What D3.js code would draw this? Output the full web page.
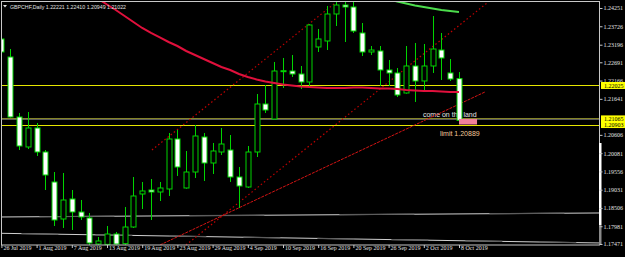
<!DOCTYPE html>
<html>
<head>
<meta charset="utf-8">
<script src="https://cdn.jsdelivr.net/npm/d3@7/dist/d3.min.js"></script>
<style>
  body { margin: 0; background: #000; }
  svg { display: block; }
</style>
</head>
<body>
<svg id="chart"></svg>
<script>
// GBPCHF daily bars, 26 Jul - 8 Oct 2019
const dates = ["26 Jul 2019","29 Jul 2019","30 Jul 2019","31 Jul 2019","1 Aug 2019","2 Aug 2019","5 Aug 2019","6 Aug 2019","7 Aug 2019","8 Aug 2019","9 Aug 2019","12 Aug 2019","13 Aug 2019","14 Aug 2019","15 Aug 2019","16 Aug 2019","19 Aug 2019","20 Aug 2019","21 Aug 2019","22 Aug 2019","23 Aug 2019","26 Aug 2019","27 Aug 2019","28 Aug 2019","29 Aug 2019","30 Aug 2019","2 Sep 2019","3 Sep 2019","4 Sep 2019","5 Sep 2019","6 Sep 2019","9 Sep 2019","10 Sep 2019","11 Sep 2019","12 Sep 2019","13 Sep 2019","16 Sep 2019","17 Sep 2019","18 Sep 2019","19 Sep 2019","20 Sep 2019","23 Sep 2019","24 Sep 2019","25 Sep 2019","26 Sep 2019","27 Sep 2019","30 Sep 2019","1 Oct 2019","2 Oct 2019","3 Oct 2019","4 Oct 2019","7 Oct 2019","8 Oct 2019"];

const open = [1.23361,1.22843,1.21120,1.20258,1.20804,1.20114,1.19252,1.18189,1.18764,1.18390,1.18218,1.17471,1.17460,1.17758,1.17480,1.17959,1.18907,1.19022,1.18965,1.19051,1.20488,1.19080,1.19539,1.20545,1.19798,1.20114,1.20171,1.19396,1.19108,1.20114,1.21493,1.21062,1.22441,1.22441,1.22355,1.22125,1.23131,1.23303,1.24079,1.24337,1.24280,1.23533,1.22987,1.23016,1.22470,1.22384,1.21809,1.22585,1.22154,1.22585,1.23044,1.22384,1.22221];
const high = [1.23447,1.23073,1.21235,1.21263,1.20947,1.20171,1.19539,1.19511,1.19022,1.18735,1.18362,1.17672,1.17988,1.17816,1.18534,1.19396,1.19252,1.19338,1.19252,1.20660,1.20746,1.20143,1.20890,1.20660,1.20373,1.20804,1.20602,1.19683,1.20286,1.21780,1.22039,1.22700,1.22815,1.22901,1.22585,1.23791,1.23648,1.24309,1.24424,1.24452,1.24424,1.23820,1.23159,1.23159,1.22757,1.22527,1.23159,1.23246,1.23217,1.24021,1.23533,1.22786,1.22410];
const low = [1.22958,1.21100,1.20171,1.20200,1.19999,1.19022,1.17988,1.17931,1.17873,1.18160,1.17442,1.17442,1.17442,1.17450,1.17445,1.17931,1.18476,1.18160,1.18706,1.18850,1.19425,1.19060,1.19367,1.19281,1.19482,1.20028,1.19252,1.18505,1.19080,1.19970,1.21235,1.21040,1.21953,1.22269,1.21924,1.21981,1.22987,1.23044,1.23734,1.23274,1.23533,1.22872,1.22901,1.22010,1.22010,1.21694,1.21790,1.21551,1.21895,1.22384,1.22183,1.22154,1.20949];
const close = [1.22987,1.21120,1.20286,1.20804,1.20114,1.19453,1.18160,1.18735,1.18390,1.18247,1.17500,1.17557,1.17758,1.17470,1.17959,1.18850,1.18994,1.18965,1.19080,1.20488,1.19683,1.19539,1.20574,1.19798,1.20143,1.20344,1.19396,1.19137,1.20114,1.21493,1.21321,1.22441,1.22450,1.22355,1.22125,1.23763,1.23361,1.24079,1.24337,1.24280,1.23590,1.22987,1.23044,1.22470,1.22384,1.21752,1.22585,1.22154,1.22585,1.23073,1.22815,1.22211,1.21022];

// moving averages (red slow one, green one only visible at the end)
const maRed = [1.26779,1.26550,1.26320,1.26090,1.25860,1.25659,1.25458,1.25257,1.25056,1.24854,1.24682,1.24510,1.24352,1.24194,1.24021,1.23849,1.23677,1.23533,1.23404,1.23274,1.23159,1.23016,1.22901,1.22786,1.22671,1.22556,1.22470,1.22355,1.22269,1.22197,1.22140,1.22096,1.22053,1.22025,1.21996,1.21981,1.21967,1.21953,1.21953,1.21953,1.21967,1.21967,1.21953,1.21938,1.21938,1.21924,1.21895,1.21881,1.21867,1.21867,1.21852,1.21838,1.21838];
const maGreen = [null,null,null,null,null,null,null,null,null,null,null,null,null,null,null,null,null,null,null,null,null,null,null,null,null,null,null,null,null,null,null,null,null,null,null,null,null,null,null,null,null,null,null,null,1.24495,1.24438,1.24380,1.24323,1.24280,1.24237,1.24194,1.24165,1.24136];

const priceTicks = [1.24251,1.23726,1.23196,1.22691,1.22166,1.21641,1.20606,1.20081,1.19556,1.19031,1.18506,1.17981,1.17471];

// drawn objects: [bar index, price]
const channelLines = [
  [[17.11, 1.20171], [38.35, 1.24481]],
  [[20.98, 1.17442], [55.18, 1.24395]]
];
const supportLine = [[18.02, 1.17442], [54.95, 1.21838]];
const greyLines = [
  [[0, 1.18247], [68, 1.18362]],
  [[0, 1.17778], [68, 1.17500]]
];
const yellowLevels = [1.22025, 1.20903];
const dottedLevel = 1.21065;
const bidPrice = 1.21022;
const zone = { from: 52, to: 54.05, top: 1.21065, bottom: 1.20903 };
const notes = [
  { text: "come on the land", i: 47.9, price: 1.21120, color: "#e6e6e6" },
  { text: "limit 1.20889", i: 49.84, price: 1.20574, color: "#f5c89a" }
];

const W = 625, H = 257;
const plotL = 1.5, plotR = 599.5, plotT = 1.5, plotB = 245;

const svg = d3.select("#chart").attr("width", W).attr("height", H)
  .style("font-family", "'Liberation Serif', serif");

svg.append("rect").attr("width", W).attr("height", H).attr("fill", "#000");

const n = dates.length;
const x = d3.scaleLinear().domain([0, n - 1]).range([1.4, 459]);
const y = d3.scaleLinear().domain([d3.min(low), d3.max(high)]).range([245, 1]);
const px = i => Math.round(x(i)) + 0.5;

svg.append("clipPath").attr("id", "plot")
  .append("rect").attr("x", 2).attr("y", 2).attr("width", plotR - 2.5).attr("height", plotB - 2);

const plot = svg.append("g").attr("clip-path", "url(#plot)");
const line = d3.line().x(d => x(d[0])).y(d => y(d[1]));

// grey trend lines near the bottom
greyLines.forEach((pts, k) => {
  plot.append("path").attr("d", line(pts)).attr("stroke", "#d0d0d0").attr("stroke-width", 1).attr("fill", "none");
  plot.append("path").attr("d", line(pts)).attr("stroke", "#5c5c5c").attr("stroke-width", 1.2).attr("fill", "none")
    .attr("stroke-dasharray", k === 0 ? "75,75" : "37,37").attr("stroke-dashoffset", k === 0 ? -38 : -20);
});

// horizontal levels
yellowLevels.forEach(p => {
  plot.append("line").attr("x1", plotL).attr("x2", plotR)
    .attr("y1", Math.round(y(p)) + 0.5).attr("y2", Math.round(y(p)) + 0.5)
    .attr("stroke", "#e6e600").attr("stroke-width", 1);
});
plot.append("line").attr("x1", plotL).attr("x2", plotR)
  .attr("y1", Math.round(y(dottedLevel)) - 0.5).attr("y2", Math.round(y(dottedLevel)) - 0.5)
  .attr("stroke", "#858528").attr("stroke-width", 1);
plot.append("line").attr("x1", plotL).attr("x2", plotR)
  .attr("y1", Math.round(y(bidPrice)) - 0.5).attr("y2", Math.round(y(bidPrice)) - 0.5)
  .attr("stroke", "#5a5a5a").attr("stroke-width", 1);

// notes (under the candles)
notes.forEach(d => {
  plot.append("text").attr("x", x(d.i)).attr("y", y(d.price))
    .attr("fill", d.color).style("font-family", "'Liberation Sans', Arial, sans-serif")
    .style("font-size", "7px").text(d.text);
});

// channel + support lines
channelLines.forEach(pts => {
  plot.append("path").attr("d", line(pts)).attr("stroke", "#c00000").attr("stroke-width", 1.2)
    .attr("stroke-dasharray", "1.5,2.5").attr("fill", "none");
});
plot.append("path").attr("d", line(supportLine)).attr("stroke", "#d41414").attr("stroke-width", 1)
  .attr("stroke-dasharray", "3,1").attr("fill", "none");

// candles
const bars = d3.range(n);
const green = "#00d400";
plot.selectAll("line.wick").data(bars).enter().append("line")
  .attr("class", "wick")
  .attr("x1", i => px(i)).attr("x2", i => px(i))
  .attr("y1", i => y(high[i])).attr("y2", i => y(low[i]))
  .attr("stroke", green).attr("stroke-width", 1);

plot.selectAll("rect.body").data(bars).enter().append("rect")
  .attr("class", "body")
  .attr("x", i => px(i) - 2.5)
  .attr("width", 5)
  .attr("y", i => Math.min(y(open[i]), y(close[i])))
  .attr("height", i => Math.max(1, Math.abs(y(open[i]) - y(close[i]))))
  .attr("fill", i => close[i] < open[i] ? "#ffffff" : "#000000")
  .attr("stroke", green).attr("stroke-width", 1);

// pink zone
plot.append("rect")
  .attr("x", x(zone.from)).attr("width", x(zone.to) - x(zone.from))
  .attr("y", y(zone.top)).attr("height", y(zone.bottom) - y(zone.top))
  .attr("fill", "#f0809a");

// moving averages
plot.append("path").datum(maRed.map((v, i) => [i, v]))
  .attr("d", line).attr("stroke", "#e0103c").attr("stroke-width", 2).attr("fill", "none");
plot.append("path").datum(maGreen.map((v, i) => [i, v]))
  .attr("d", d3.line().defined(d => d[1] !== null).x(d => x(d[0])).y(d => y(d[1])))
  .attr("stroke", "#4cdc4c").attr("stroke-width", 2).attr("fill", "none");

// frame
svg.append("rect").attr("x", plotL).attr("y", plotT).attr("width", plotR - plotL).attr("height", plotB - plotT)
  .attr("fill", "none").attr("stroke", "#c8c8c8").attr("stroke-width", 1);
svg.append("rect").attr("x", 599).attr("y", 143).attr("width", 2.5).attr("height", 82).attr("fill", "#ffffff");
svg.append("rect").attr("x", 599).attr("y", 225).attr("width", 2.5).attr("height", 20).attr("fill", "#8a8a8a");

// price axis
const yAxis = d3.axisRight(y).tickValues(priceTicks).tickSize(3).tickPadding(1)
  .tickFormat(d3.format(".5f"));
const ya = svg.append("g").attr("transform", `translate(${plotR},0)`).call(yAxis);
ya.select(".domain").remove();
ya.selectAll("line").attr("stroke", "#c8c8c8");
ya.selectAll("text").attr("fill", "#e0e0e0").style("font-size", "6px")
  .style("font-family", "'Liberation Serif', serif");

// level labels
const levelLabels = [yellowLevels[0], dottedLevel, yellowLevels[1]];
levelLabels.forEach(p => {
  const g = svg.append("g").attr("transform", `translate(601,${y(p)})`);
  g.append("rect").attr("x", 0).attr("y", -3.5).attr("width", 24).attr("height", 7).attr("fill", "#ffff00");
  g.append("text").attr("x", 3).attr("y", 2.2).attr("fill", "#000").style("font-size", "6px").text(d3.format(".5f")(p));
});

// time axis
const dateTicks = bars.filter(i => i % 4 === 0);
const xAxis = d3.axisBottom(x).tickValues(dateTicks).tickSize(3).tickFormat(i => dates[i]);
const xa = svg.append("g").attr("transform", `translate(0,${plotB})`).call(xAxis);
xa.select(".domain").remove();
xa.selectAll("line").attr("stroke", "#c8c8c8");
xa.selectAll("text").attr("fill", "#e0e0e0").style("font-size", "6px")
  .attr("text-anchor", "start").attr("dx", 1.5).attr("dy", "-0.1em")
  .style("font-family", "'Liberation Serif', serif");

// title
svg.append("path").attr("d", "M3,5 L7,5 L5,7.5 Z").attr("fill", "#e0e0e0");
svg.append("text").attr("x", 10).attr("y", 8.5).attr("fill", "#e0e0e0")
  .attr("textLength", 116).attr("lengthAdjust", "spacingAndGlyphs")
  .style("font-family", "'Liberation Sans', Arial, sans-serif").style("font-size", "6.2px")
  .text("GBPCHF,Daily " + [open[n - 1], high[n - 1], low[n - 1], close[n - 1]].map(d3.format(".5f")).join(" "));
</script>
</body>
</html>
